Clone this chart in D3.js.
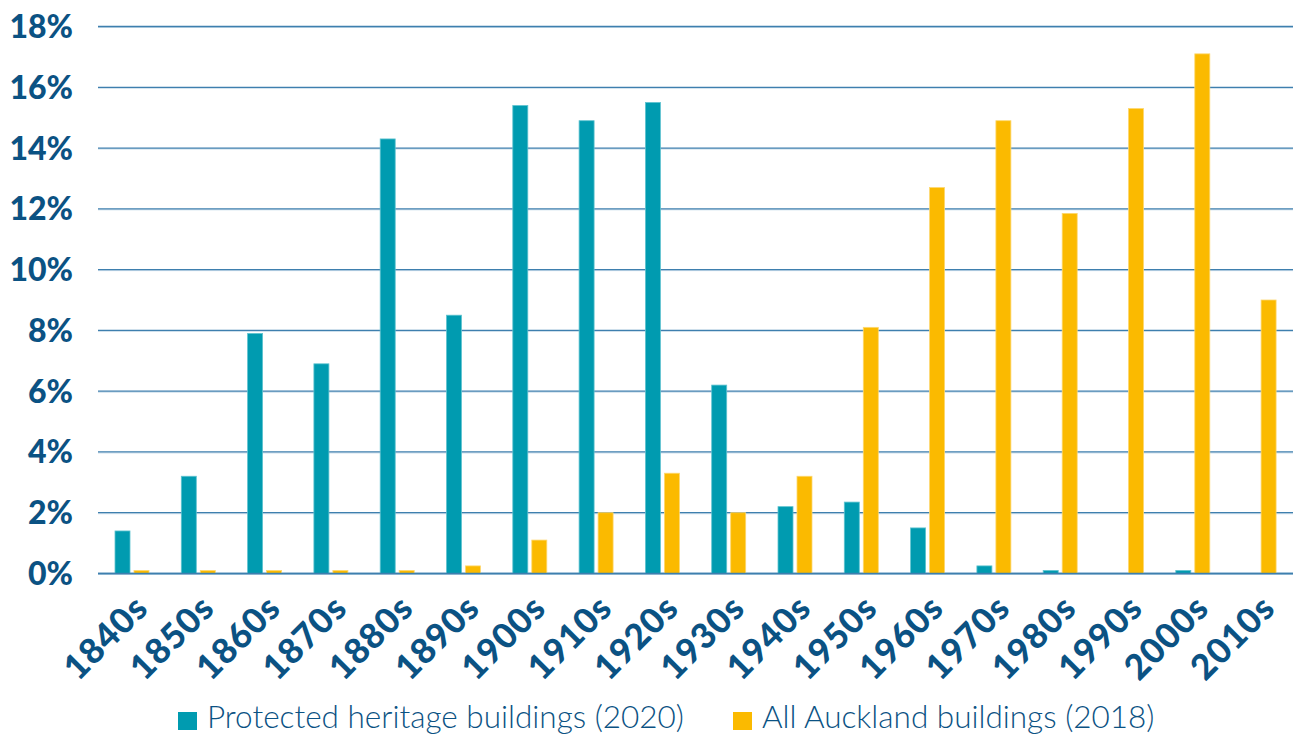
<!DOCTYPE html>
<html><head><meta charset="utf-8">
<script src="https://cdn.jsdelivr.net/npm/d3@7"></script>
<style>
html,body{margin:0;padding:0;background:#fff;}
svg{display:block;}
</style>
</head><body>
<svg id="c" width="1293" height="735"></svg>
<script>
const categories = ["1840s","1850s","1860s","1870s","1880s","1890s","1900s","1910s","1920s","1930s","1940s","1950s","1960s","1970s","1980s","1990s","2000s","2010s"];
const seriesNames = ["Protected heritage buildings (2020)","All Auckland buildings (2018)"];
const heritage = [1.4,3.2,7.9,6.9,14.3,8.5,15.4,14.9,15.5,6.2,2.2,2.35,1.5,0.25,0.1,0,0.1,0];
const allBuildings = [0.1,0.1,0.1,0.1,0.1,0.25,1.1,2.0,3.3,2.0,3.2,8.1,12.7,14.9,11.85,15.3,17.1,9.0];
const yTicks = [0,2,4,6,8,10,12,14,16,18];
const colors = ["#009bb0","#fbba00"];
const strokes = ["#5fc3d0","#fdd870"];

const svg = d3.select("#c");
const y = d3.scaleLinear().domain([0,18]).range([573.5,26.5]);
const x0 = d3.scaleBand().domain(categories).range([98,1291.4]);
const x1 = d3.scaleBand().domain(seriesNames).range([0,34]).paddingInner(0.21);
const barOffset = 17;

// gridlines
const grid = svg.append("g");
yTicks.forEach(t=>{
  grid.append("line").attr("x1",98).attr("x2",1293).attr("y1",y(t)+1).attr("y2",y(t)+1)
    .attr("stroke","#c9dcea").attr("stroke-width",1);
  grid.append("line").attr("x1",98).attr("x2",1293).attr("y1",y(t)).attr("y2",y(t))
    .attr("stroke","#3e7fae").attr("stroke-width",1.3);
});

// y labels
svg.append("g").selectAll("text").data(yTicks).join("text")
  .attr("x",73).attr("y",d=>y(d)).attr("dy","0.36em")
  .attr("text-anchor","end")
  .attr("font-family","Lato").attr("font-weight",900).attr("font-size",32)
  .attr("fill","#0b5283").text(d=>d+"%");

// bars
const data = categories.map((c,i)=>({cat:c, vals:[heritage[i],allBuildings[i]]}));
const groups = svg.append("g").selectAll("g").data(data).join("g")
  .attr("transform",d=>`translate(${x0(d.cat)+barOffset},0)`);
groups.selectAll("rect").data(d=>d.vals.map((v,j)=>({v,j}))).join("rect")
  .filter(d=>d.v>0)
  .attr("x",d=>x1(seriesNames[d.j])).attr("width",x1.bandwidth())
  .attr("y",d=>y(d.v)).attr("height",d=>y(0)-y(d.v))
  .attr("fill",d=>colors[d.j]).attr("stroke",d=>strokes[d.j]).attr("stroke-width",0.8);

// baseline redraw
svg.append("line").attr("x1",98).attr("x2",1293).attr("y1",y(0)).attr("y2",y(0))
  .attr("stroke","#3e7fae").attr("stroke-width",1.3);

// x labels
svg.append("g").selectAll("text").data(categories).join("text")
  .attr("transform",d=>`translate(${x0(d)+x0.bandwidth()/2+19},${610}) rotate(-45)`)
  .attr("text-anchor","end")
  .attr("font-family","Lato").attr("font-weight",900).attr("font-size",35)
  .attr("letter-spacing",1)
  .attr("fill","#0b5283").text(d=>d);

// legend
const legend = [{x:178,name:seriesNames[0],c:colors[0]},{x:733,name:seriesNames[1],c:colors[1]}];
legend.forEach(l=>{
  svg.append("rect").attr("x",l.x).attr("y",712).attr("width",19).attr("height",18).attr("fill",l.c);
  svg.append("text").attr("x",l.x+29).attr("y",727.5)
    .attr("font-family","Lato").attr("font-weight",300).attr("font-size",31.5)
    .attr("fill","#0b5283").text(l.name);
});
</script>
</body></html>
